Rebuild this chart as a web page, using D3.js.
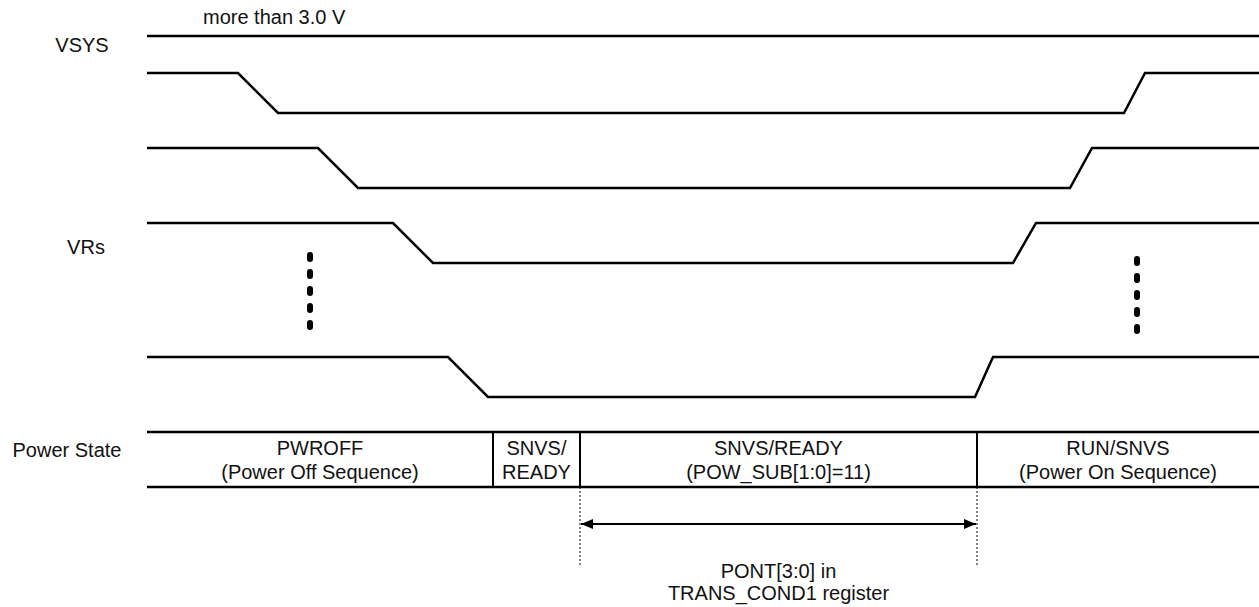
<!DOCTYPE html>
<html>
<head>
<meta charset="utf-8">
<script src="https://cdn.jsdelivr.net/npm/d3@7"></script>
<style>
  body { margin: 0; background: #fff; }
  text { font-family: "Liberation Sans", Arial, sans-serif; font-size: 20px; fill: #111; }
</style>
</head>
<body>
<script>
// data (time in arbitrary units, 0 .. 1112)
const RAILS = ["VR1", "VR2", "VR3", "VRn"];
const FALL_START = [91, 171, 246, 301];
const FALL_END = [131, 211, 286, 341];
const RISE_START = [977, 923, 866, 828];
const RISE_END = [998, 945, 889, 846];

const STATE_BOUNDS = [0, 346, 433, 830, 1112];
const STATE_LABELS = [
    ["PWROFF", "(Power Off Sequence)"],
    ["SNVS/", "READY"],
    ["SNVS/READY", "(POW_SUB[1:0]=11)"],
    ["RUN/SNVS", "(Power On Sequence)"]
];

const ELLIPSIS_TIMES = [163, 990];
const PONT_SPAN = [433, 830];

// setup
const WIDTH = 1259, HEIGHT = 607;
const SWING = 40;

const svg = d3.select("body").append("svg")
    .attr("width", WIDTH)
    .attr("height", HEIGHT);

const x = d3.scaleLinear().domain([0, 1112]).range([147, 1259]);
const row_y = d3.scaleOrdinal().domain(RAILS).range([73, 148, 223, 357]);
const level_y = (rail, level) => row_y(rail) + (1 - level) * SWING;

const line = d3.line().x(d => x(d[0])).y(d => d[1]);

// VSYS stays high
svg.append("path")
    .attr("d", line([[0, 36], [1112, 36]]))
    .attr("fill", "none").attr("stroke", "#000").attr("stroke-width", 2.5);

// regulators
RAILS.forEach((rail, i) => {
    const pts = [
        [0, level_y(rail, 1)],
        [FALL_START[i], level_y(rail, 1)],
        [FALL_END[i], level_y(rail, 0)],
        [RISE_START[i], level_y(rail, 0)],
        [RISE_END[i], level_y(rail, 1)],
        [1112, level_y(rail, 1)]
    ];
    svg.append("path")
        .attr("d", line(pts))
        .attr("fill", "none")
        .attr("stroke", "#000")
        .attr("stroke-width", 2.5)
        .attr("stroke-linejoin", "miter");
});

// vertical ellipsis between rails
svg.selectAll("line.Ellipsis")
    .data(ELLIPSIS_TIMES)
    .enter().append("line")
    .attr("class", "Ellipsis")
    .attr("x1", d => x(d)).attr("x2", d => x(d))
    .attr("y1", (d, i) => i === 0 ? 255 : 259)
    .attr("y2", (d, i) => i === 0 ? 330 : 334)
    .attr("stroke", "#000")
    .attr("stroke-width", 6)
    .attr("stroke-linecap", "round")
    .attr("stroke-dasharray", "4,13");

// labels
svg.append("text").attr("x", 203).attr("y", 24).text("more than 3.0 V");
svg.append("text").attr("x", 82).attr("y", 52).attr("text-anchor", "middle").text("VSYS");
svg.append("text").attr("x", 86).attr("y", 254).attr("text-anchor", "middle").text("VRs");
svg.append("text").attr("x", 67).attr("y", 457).attr("text-anchor", "middle").text("Power State");

// power state band
const band_top = 432, band_bottom = 487;
[band_top, band_bottom].forEach(yy => {
    svg.append("path")
        .attr("d", line([[0, yy], [1112, yy]]))
        .attr("stroke", "#000").attr("stroke-width", 2.5);
});
svg.selectAll("line.Divider")
    .data(STATE_BOUNDS.slice(1, -1))
    .enter().append("line")
    .attr("class", "Divider")
    .attr("x1", d => x(d)).attr("x2", d => x(d))
    .attr("y1", band_top).attr("y2", band_bottom)
    .attr("stroke", "#000").attr("stroke-width", 2);

STATE_LABELS.forEach((lines, i) => {
    const cx = (x(STATE_BOUNDS[i]) + x(STATE_BOUNDS[i + 1])) / 2;
    const t = svg.append("text").attr("text-anchor", "middle");
    lines.forEach((s, k) => {
        t.append("tspan").attr("x", cx).attr("y", 455 + k * 24).text(s);
    });
});

// PONT window
svg.selectAll("line.Marker")
    .data(PONT_SPAN)
    .enter().append("line")
    .attr("class", "Marker")
    .attr("x1", d => x(d)).attr("x2", d => x(d))
    .attr("y1", band_bottom).attr("y2", 565)
    .attr("stroke", "#000").attr("stroke-width", 1)
    .attr("stroke-dasharray", "2,2");

const defs = svg.append("defs");
defs.append("marker")
    .attr("id", "head")
    .attr("viewBox", "0 0 12 10")
    .attr("refX", 12).attr("refY", 5)
    .attr("markerWidth", 12).attr("markerHeight", 10)
    .attr("markerUnits", "userSpaceOnUse")
    .attr("orient", "auto-start-reverse")
    .append("path").attr("d", "M0,0 L12,5 L0,10 Z").attr("fill", "#000");

svg.append("line")
    .attr("x1", x(PONT_SPAN[0]) + 1).attr("x2", x(PONT_SPAN[1]) - 1)
    .attr("y1", 524).attr("y2", 524)
    .attr("stroke", "#000").attr("stroke-width", 2)
    .attr("marker-start", "url(#head)")
    .attr("marker-end", "url(#head)");

const pont_cx = (x(PONT_SPAN[0]) + x(PONT_SPAN[1])) / 2;
svg.append("text").attr("x", pont_cx).attr("y", 578).attr("text-anchor", "middle").text("PONT[3:0] in");
svg.append("text").attr("x", pont_cx).attr("y", 600).attr("text-anchor", "middle").text("TRANS_COND1 register");
</script>
</body>
</html>
